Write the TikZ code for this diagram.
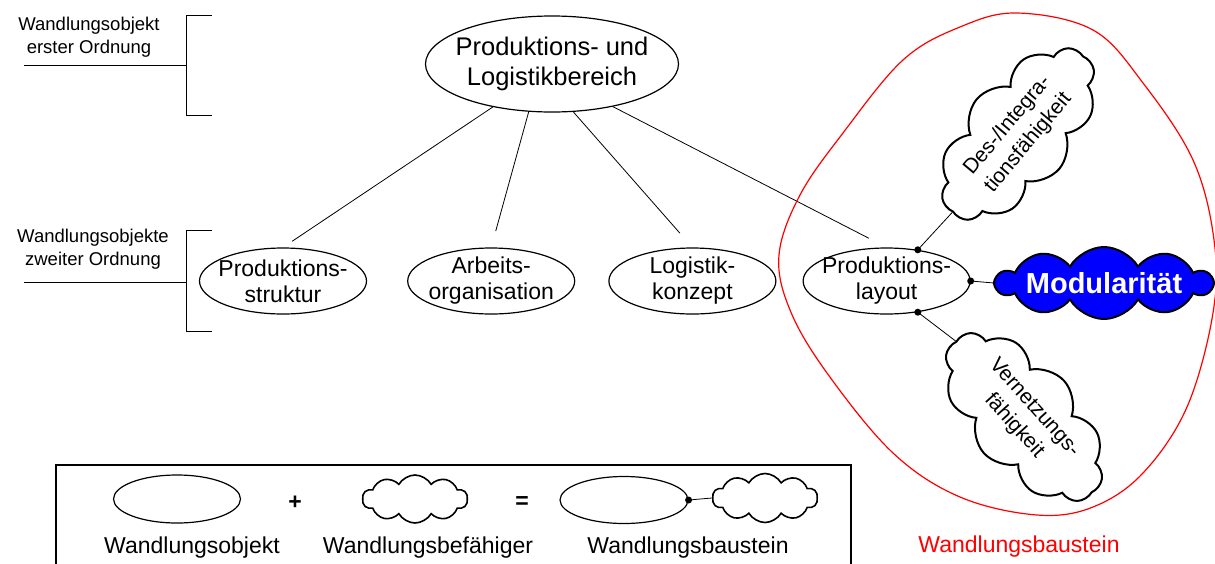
\documentclass[tikz,border=0pt]{standalone}
\usepackage{fontspec}
\setmainfont{Liberation Sans}
\usetikzlibrary{shapes.geometric,shapes.symbols,positioning}

\begin{document}
\begin{tikzpicture}[
    x=1pt, y=-1pt,
    obj/.style={ellipse, draw, line width=1.2pt, align=center, inner xsep=-6pt, inner ysep=-2pt, minimum width=167pt, minimum height=66pt, font=\fontsize{23}{26}\selectfont},
    befaehiger/.style={cloud, cloud ignores aspect, draw, line width=2pt, cloud puffs=10, cloud puff arc=120, align=center, inner sep=0pt, font=\fontsize{21}{27}\selectfont},
    ebene/.style={align=center, font=\fontsize{18.5}{23.5}\selectfont},
    legende/.style={font=\fontsize{23}{27}\selectfont},
    link/.style={line width=0.8pt}
  ]
    \useasboundingbox (0,0) rectangle (1215,563);

    % Ebenen links
    \node[ebene] (e1) at (89,37) {Wandlungsobjekt\\erster Ordnung};
    \node[ebene] (e2) at (93,249) {Wandlungsobjekte\\zweiter Ordnung};
    \draw[link] (212,15) -- (186,15) -- (186,115) -- (212,115);
    \draw[link] (24,65) -- (186,65);
    \draw[link] (212,230) -- (186,230) -- (186,331) -- (212,331);
    \draw[link] (24,282) -- (186,282);

    % Wandlungsobjekte
    \node[obj, inner xsep=-7pt, minimum width=253pt, minimum height=96pt, font=\fontsize{25.5}{30}\selectfont] (top) at (552,64) {Produktions- und\\Logistikbereich};
    \node[obj] (ps) at (283,281) {Produktions-\\struktur};
    \node[obj, right=40pt of ps] (ao) {Arbeits-\\organisation};
    \node[obj, right=33pt of ao] (lk) {Logistik-\\konzept};
    \node[obj, right=26pt of lk] (pl) {Produktions-\\layout};
    \foreach \a/\n/\s in {216/ps/11, 244/ao/17, 294/lk/19, 325/pl/20}
      \draw[link, shorten >=\s pt] (top.\a) -- (\n.north);

    % Wandlungsbaustein
    \draw[red, line width=1.2pt] plot[smooth cycle, tension=0.6] coordinates {
      (1017,13) (1093,30) (1143,83) (1193,160) (1214,240) (1213,313)
      (1187,407) (1143,473) (1093,507) (1037,515) (960,497) (893,453)
      (827,373) (790,310) (779,255) (800,195) (843,133) (903,60) (960,27)};
    \node[legende, text=red] (wb) at (1019,547) {Wandlungsbaustein};

    \node[befaehiger, rotate=50, minimum width=206pt, minimum height=108pt] (des) at (1018,134) {Des-/Integra-\\tionsfähigkeit};
    \node[befaehiger, fill=blue, text=white, minimum width=198pt, minimum height=72pt, font=\bfseries\fontsize{29}{34}\selectfont] (mod) at (1104,283) {Modularität};
    \node[befaehiger, rotate=-48, minimum width=206pt, minimum height=108pt] (ver) at (1024,417) {Vernetzungs-\\fähigkeit};
    \draw[link] (pl.45) -- (des.west);
    \draw[link] (pl.east) -- (mod.west);
    \draw[link] (pl.-45) -- (ver.west);
    \foreach \a in {45,0,-45}
      \fill (pl.\a) circle[radius=3.5pt];

    % Legende
    \draw[line width=1.2pt] (56,465) rectangle (851,600);
    \node[ellipse, draw, line width=1.2pt, minimum width=127pt, minimum height=48pt] (lo1) at (177,499) {};
    \node[legende, font=\bfseries\fontsize{23}{27}\selectfont] (plus) at (295,503) {+};
    \node[befaehiger, line width=1.6pt, minimum width=105pt, minimum height=48pt] (lb1) at (415,499) {};
    \node[legende, font=\bfseries\fontsize{23}{27}\selectfont] (gleich) at (522,503) {=};
    \node[ellipse, draw, line width=1.2pt, minimum width=128pt, minimum height=47pt] (lo2) at (624,500) {};
    \node[befaehiger, line width=1.6pt, minimum width=105pt, minimum height=49pt] (lb2) at (765,498) {};
    \draw[link] (lo2.east) -- (lb2.west);
    \fill (lo2.east) circle[radius=3.5pt];
    \node[legende] (t1) at (192,548) {Wandlungsobjekt};
    \node[legende] (t2) at (428,548) {Wandlungsbefähiger};
    \node[legende] (t3) at (688,548) {Wandlungsbaustein};
  \end{tikzpicture}
\end{document}
